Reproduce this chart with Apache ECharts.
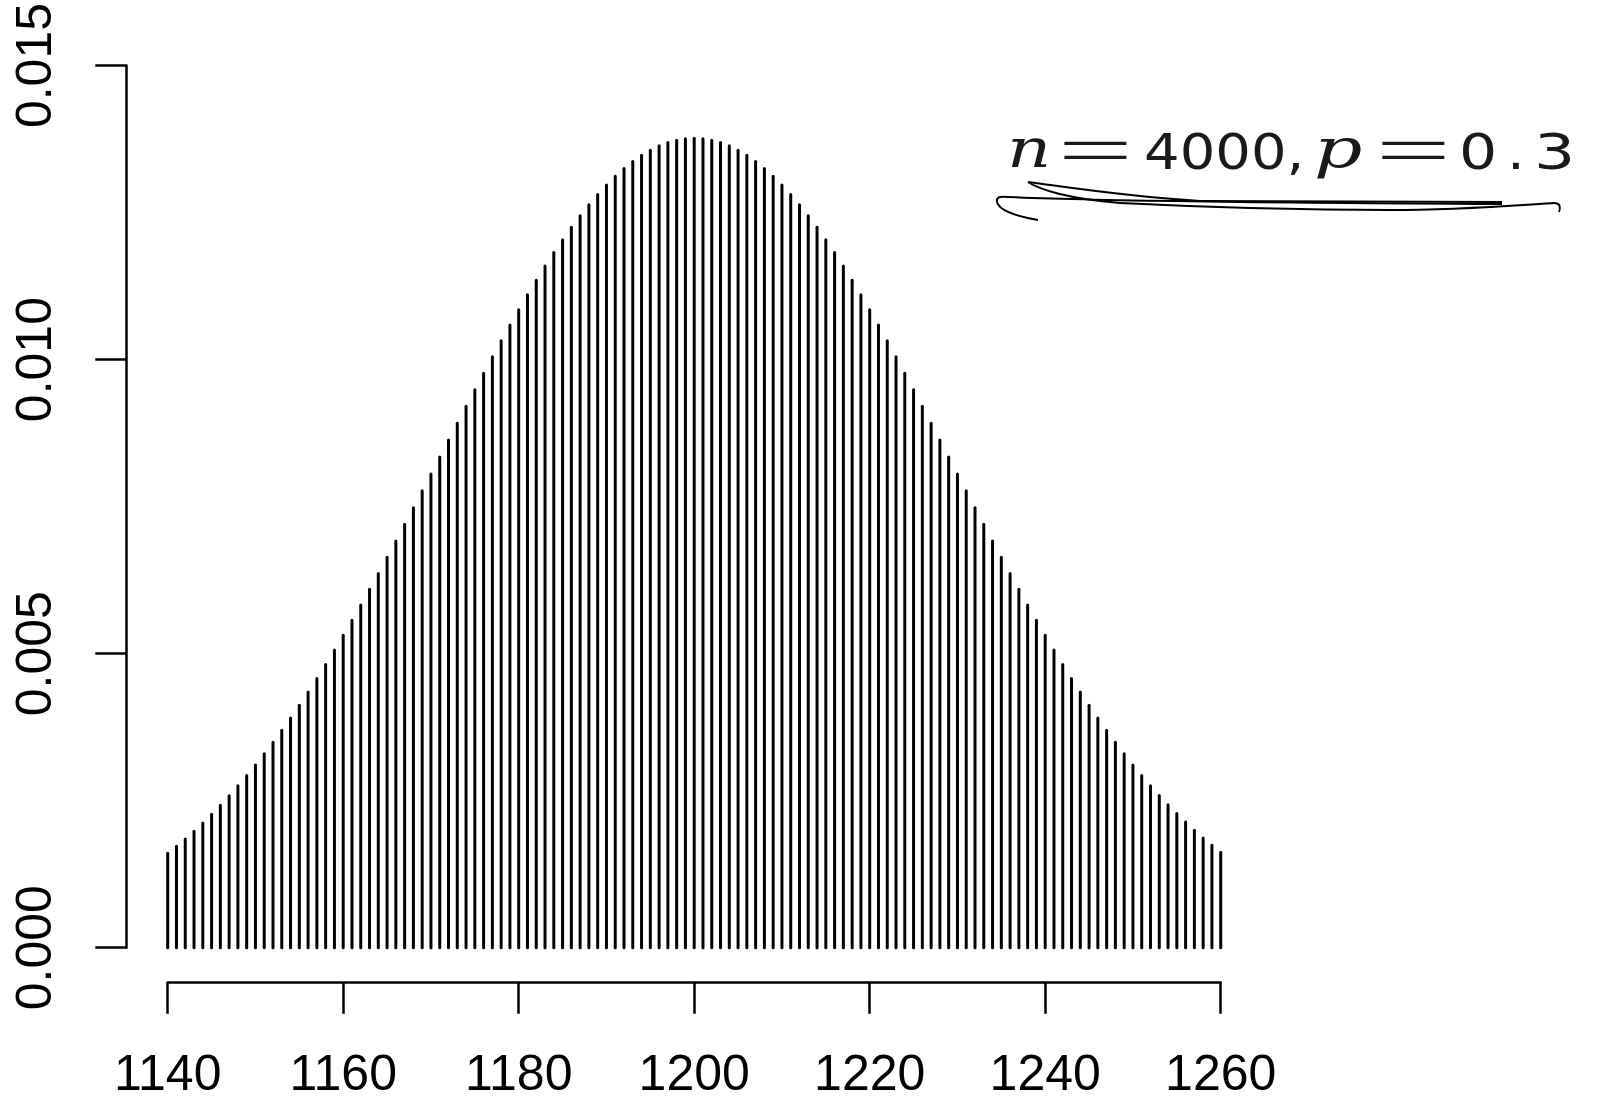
<!DOCTYPE html>
<html>
<head>
<meta charset="utf-8">
<script src="https://cdn.jsdelivr.net/npm/echarts@6/dist/echarts.min.js"></script>
<style>
html,body{margin:0;padding:0;background:#fff;}
#chart{width:1601px;height:1105px;}
</style>
</head>
<body>
<div id="chart"></div>
<script>
// Outcomes k (x positions of the spikes)
const outcomes = [
 1140,1141,1142,1143,1144,1145,1146,1147,1148,1149,
 1150,1151,1152,1153,1154,1155,1156,1157,1158,1159,
 1160,1161,1162,1163,1164,1165,1166,1167,1168,1169,
 1170,1171,1172,1173,1174,1175,1176,1177,1178,1179,
 1180,1181,1182,1183,1184,1185,1186,1187,1188,1189,
 1190,1191,1192,1193,1194,1195,1196,1197,1198,1199,
 1200,
 1201,1202,1203,1204,1205,1206,1207,1208,1209,1210,
 1211,1212,1213,1214,1215,1216,1217,1218,1219,1220,
 1221,1222,1223,1224,1225,1226,1227,1228,1229,1230,
 1231,1232,1233,1234,1235,1236,1237,1238,1239,1240,
 1241,1242,1243,1244,1245,1246,1247,1248,1249,1250,
 1251,1252,1253,1254,1255,1256,1257,1258,1259,1260
];
// Probability read for each outcome
const probabilities = [
 0.001605,0.001724,0.001849,0.001982,0.002122,0.002268,0.002421,0.002582,0.002753,0.002927,
 0.003108,0.003297,0.003493,0.003696,0.003906,0.004124,0.004348,0.004579,0.004817,0.005061,
 0.005311,0.005567,0.005828,0.006094,0.006364,0.006639,0.006917,0.007199,0.007483,0.007769,
 0.008056,0.008344,0.008632,0.008919,0.009205,0.009489,0.009770,0.010047,0.010319,0.010587,
 0.010849,0.011103,0.011351,0.011590,0.011820,0.012040,0.012249,0.012448,0.012634,0.012809,
 0.012970,0.013117,0.013251,0.013369,0.013473,0.013562,0.013635,0.013692,0.013732,0.013757,
 0.013765,
 0.013757,0.013732,0.013692,0.013635,0.013562,0.013473,0.013369,0.013251,0.013117,0.012970,
 0.012809,0.012634,0.012448,0.012249,0.012040,0.011820,0.011590,0.011351,0.011103,0.010849,
 0.010587,0.010319,0.010047,0.009770,0.009489,0.009205,0.008919,0.008632,0.008344,0.008056,
 0.007769,0.007483,0.007199,0.006917,0.006639,0.006364,0.006094,0.005828,0.005567,0.005311,
 0.005061,0.004817,0.004579,0.004348,0.004124,0.003906,0.003696,0.003493,0.003297,0.003108,
 0.002927,0.002753,0.002590,0.002431,0.002280,0.002136,0.001998,0.001867,0.001742,0.001625
];
const xTicks = [1140,1160,1180,1200,1220,1240,1260];
const yTicks = [0.000,0.005,0.010,0.015];
const annotationParts = ['n','=','4000,','p','=','0','.','3'];

const chart = echarts.init(document.getElementById('chart'), null, {renderer:'canvas'});
const data = outcomes.map((k,i)=>[k, probabilities[i]]);

const sans = '"Liberation Sans", Arial, sans-serif';
function axisCommon(){
  return {
    axisLine:{show:true, onZero:false, lineStyle:{color:'#000', width:2.5}},
    axisTick:{show:true, inside:false, length:31, lineStyle:{color:'#000', width:2.5}},
    splitLine:{show:false}
  };
}

function mathText(x, y, txt, kind, fs, sx){
  let font;
  if (kind === 'it') font = 'italic ' + fs + 'px "DejaVu Serif", serif';
  else if (kind === 'op') font = '300 ' + fs + 'px Lato, "DejaVu Sans", sans-serif';
  else font = fs + 'px "DejaVu Sans", sans-serif';
  return {
    type:'text', x:x, y:y, scaleX: sx||1,
    style:{ x:0, y:0, text:txt, fill:'#1a1a1a', font:font, align:'left', verticalAlign:'middle' }
  };
}
// hand-drawn underline: cubic segments [x1,y1,cx1,cy1,cx2,cy2,x2,y2]
const strokeSegs = [
  [1028,182, 1060,186, 1120,196, 1200,201],
  [1200,201, 1300,201.3, 1400,201.7, 1502,202],
  [1028,182, 1040,190, 1070,199, 1120,203],
  [1120,203, 1200,207, 1300,210, 1390,210],
  [1390,210, 1460,210, 1520,205, 1555,203],
  [1555,203, 1559.7,203.7, 1561,206.7, 1559,212],
  [1038,220, 1015,216, 999,210, 997,202],
  [997,202, 996,197, 1000,196, 1008,197],
  [1008,197, 1100,201, 1300,203, 1502,204]
];
const scribble = strokeSegs.map(s=>({
  type:'bezierCurve',
  shape:{x1:s[0], y1:s[1], cpx1:s[2], cpy1:s[3], cpx2:s[4], cpy2:s[5], x2:s[6], y2:s[7]},
  style:{fill:null, stroke:'#000', lineWidth:2}
}));

const option = {
  backgroundColor:'#fff',
  animation:false,
  grid:{left:167.7, right:380.3, top:62.3, bottom:157.3, containLabel:false},
  xAxis:Object.assign({
    type:'value', min:1140, max:1260, interval:20, position:'bottom', offset:35,
    axisLabel:{show:true, margin:69, fontSize:50, color:'#000', fontFamily:sans,
      formatter:v=> xTicks.includes(v) ? String(v) : ''}
  }, axisCommon()),
  yAxis:Object.assign({
    type:'value', min:0, max:0.015, interval:0.005, position:'left', offset:41.4,
    axisLabel:{show:true, margin:64, fontSize:50, color:'#000', fontFamily:sans, rotate:90,
      formatter:v=> { const t = yTicks.find(t=>Math.abs(t-v)<1e-9); return t===undefined ? '' : t.toFixed(3); }}
  }, axisCommon()),
  series:[{
    type:'custom',
    data:data,
    encode:{x:0, y:1},
    renderItem:function(params, api){
      const top = api.coord([api.value(0), api.value(1)]);
      const base = api.coord([api.value(0), 0]);
      return {
        type:'line',
        shape:{x1:top[0], y1:base[1], x2:top[0], y2:top[1]},
        style:{stroke:'#000', lineWidth:3, lineCap:'round'}
      };
    }
  }],
  graphic:[
    mathText(1007, 153, annotationParts[0], 'it', 54, 1.27),
    mathText(1052, 151.5, annotationParts[1], 'op', 88, 1.7),
    mathText(1144, 156, annotationParts[2], 'num', 50, 1.12),
    mathText(1314, 153, annotationParts[3], 'it', 54, 1.4),
    mathText(1370, 151.5, annotationParts[4], 'op', 88, 1.7),
    mathText(1459, 156, annotationParts[5], 'num', 50, 1.2),
    mathText(1507, 156, annotationParts[6], 'num', 50, 1.12),
    mathText(1534, 156, annotationParts[7], 'num', 50, 1.3)
  ].concat(scribble)
};
chart.setOption(option);
</script>
</body>
</html>
